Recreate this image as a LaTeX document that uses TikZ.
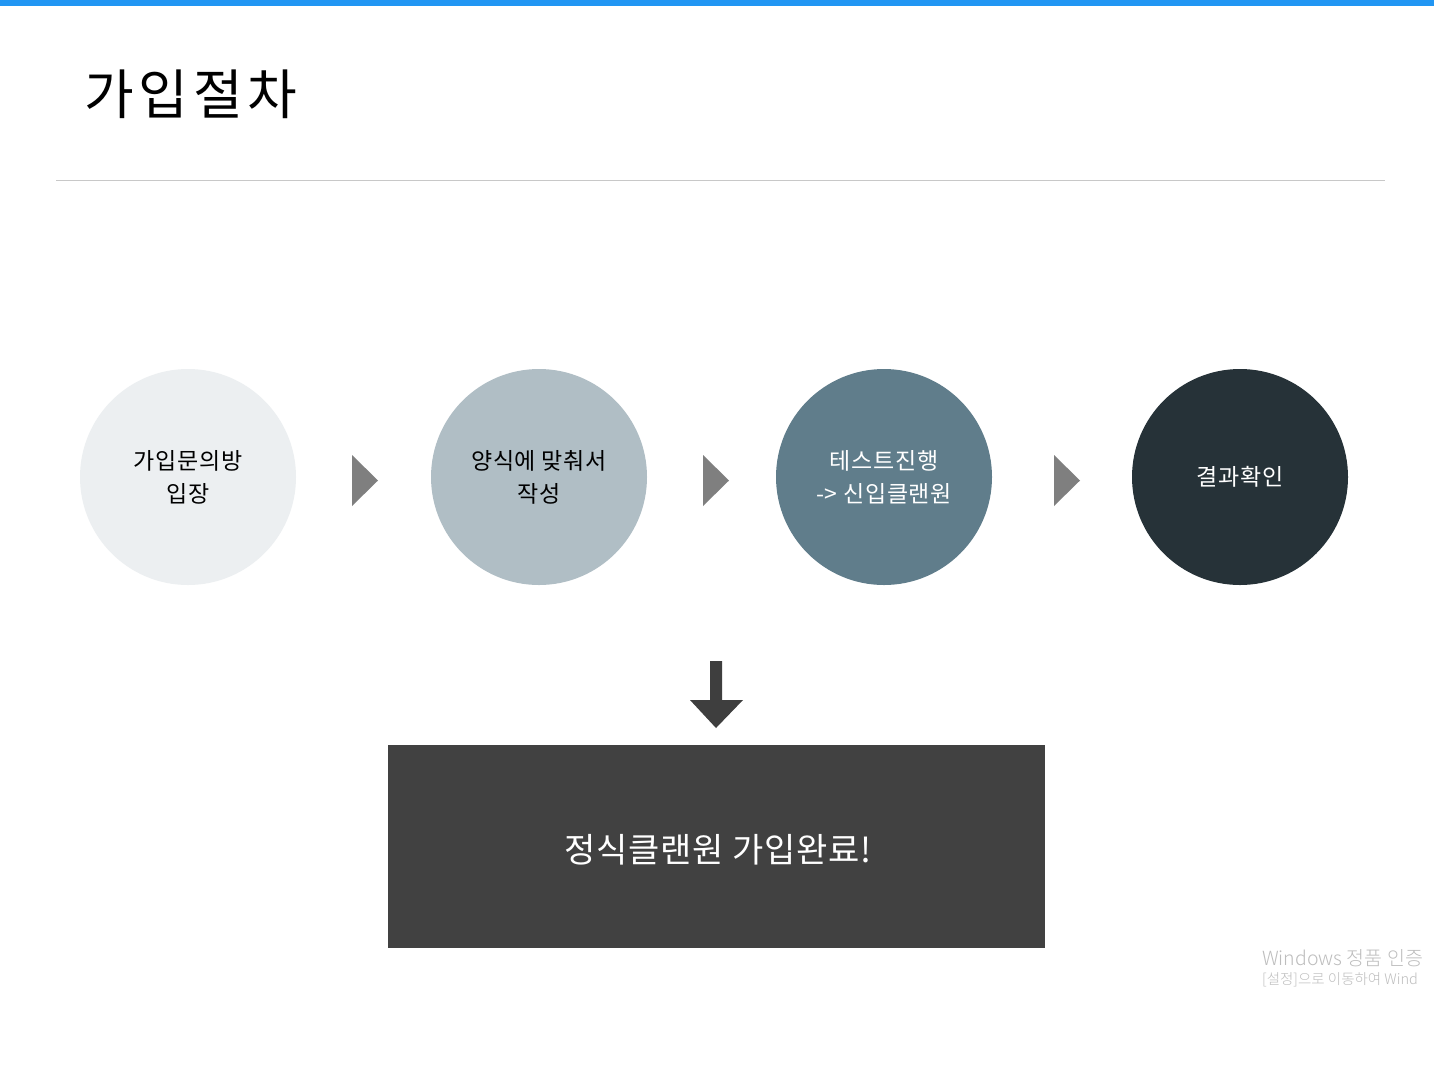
\documentclass[tikz,border=0pt]{standalone}
\usepackage{fontspec}
\newfontfamily\kr{Noto Sans CJK KR}
\newfontfamily\krl{Noto Sans CJK KR Light}
\definecolor{topblue}{HTML}{2196F3}
\definecolor{rulegray}{HTML}{C8C8C8}
\definecolor{cA}{HTML}{ECEFF1}
\definecolor{cB}{HTML}{B0BEC5}
\definecolor{cC}{HTML}{607D8B}
\definecolor{cD}{HTML}{263238}
\definecolor{trigray}{HTML}{7F7F7F}
\definecolor{darkbox}{HTML}{414141}
\definecolor{wm}{HTML}{BDBDBD}
\tikzset{
  stepcircle/.style={circle, minimum size=216pt, inner sep=0pt, align=center, font=\kr\addfontfeature{LetterSpace=3}\fontsize{23}{33}\selectfont},
  tri/.style={fill=trigray, draw=none},
}
\begin{document}
\begin{tikzpicture}[x=1pt,y=-1pt]
\useasboundingbox (0,0) rectangle (1434,1080);
\begin{scope}
\clip (0,0) rectangle (1434,1080);
\fill[white] (0,0) rectangle (1434,1080);
\fill[topblue] (0,0) rectangle (1434,6);
\node[anchor=west, font=\kr\addfontfeature{LetterSpace=9}\fontsize{54}{60}\selectfont, inner sep=0pt] (title) at (84,94) {가입절차};
\draw[rulegray, line width=1pt] (56,180) -- (1385,180);

\node[stepcircle, fill=cA, text=black] (s1) at (188,477) {가입문의방\\입장};
\node[stepcircle, fill=cB, text=black] (s2) at (539,477) {양식에 맞춰서\\작성};
\node[stepcircle, fill=cC, text=white] (s3) at (884,477) {테스트진행\\-> 신입클랜원};
\node[stepcircle, fill=cD, text=white] (s4) at (1240,477) {결과확인};

\fill[tri] (352,455) -- (378,480.5) -- (352,506) -- cycle;
\fill[tri] (703,455) -- (729,480.5) -- (703,506) -- cycle;
\fill[tri] (1054,455) -- (1080,480.5) -- (1054,506) -- cycle;

\node[fill=darkbox, minimum width=657pt, minimum height=203pt, inner sep=0pt] (done) at (716.5,846.5) {};
\node[text=white, font=\kr\addfontfeature{LetterSpace=2}\fontsize{34}{38}\selectfont, inner sep=0pt] (donetext) at (718,850) {정식클랜원 가입완료!};

\fill[darkbox!95!black] (710,661) -- (722,661) -- (722,700) -- (743,700) -- (716,728) -- (690,700) -- (710,700) -- cycle;

\node[anchor=west, inner sep=0pt, text=wm, font=\krl\fontsize{19.5}{20}\selectfont] (wm1) at (1262,958) {Windows 정품 인증};
\node[anchor=west, inner sep=0pt, text=wm, font=\krl\fontsize{14.5}{16}\selectfont] (wm2) at (1262,980) {[설정]으로 이동하여 Wind};
\end{scope}
\end{tikzpicture}
\end{document}
